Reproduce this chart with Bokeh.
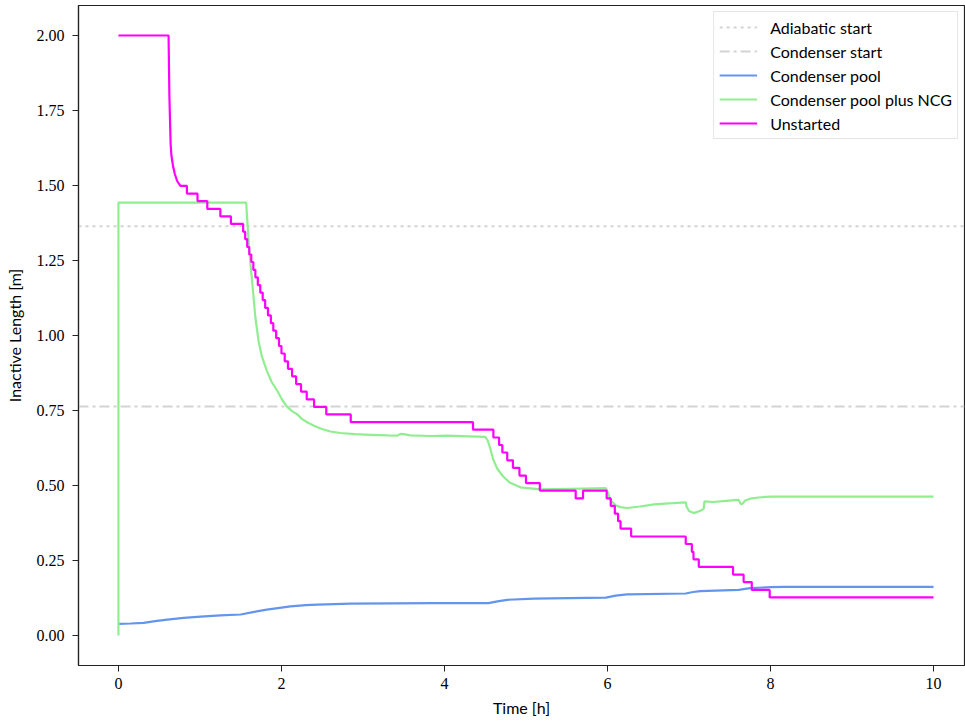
from bokeh.plotting import figure
from bokeh.models import FixedTicker, NumeralTickFormatter, Range1d, Legend, LegendItem
from bokeh.embed import file_html
from bokeh.resources import INLINE

# ---------------- data ----------------
X_MIN, X_MAX = -0.49, 10.38
Y_MIN, Y_MAX = -0.10, 2.10

adiabatic_start = 1.364
condenser_start = 0.763

# Condenser pool (blue)
pool_t = [0.0, 0.15, 0.31, 0.45, 0.60, 0.80, 1.01, 1.25, 1.50, 1.65, 1.82, 2.00, 2.11, 2.30,
          2.44, 2.85, 3.87, 4.54, 4.65, 4.77, 5.10, 5.30, 5.98, 6.10, 6.24, 6.96, 7.05, 7.14,
          7.61, 7.75, 8.00, 8.16, 10.0]
pool_y = [0.039, 0.040, 0.042, 0.048, 0.053, 0.059, 0.063, 0.067, 0.070, 0.078, 0.086, 0.093,
          0.097, 0.101, 0.103, 0.106, 0.108, 0.108, 0.114, 0.119, 0.123, 0.124, 0.126, 0.133,
          0.137, 0.140, 0.145, 0.148, 0.152, 0.158, 0.161, 0.162, 0.162]

# Condenser pool plus NCG (green)
ncg_t = [0.0, 0.0, 1.567, 1.60, 1.64, 1.68, 1.72, 1.76, 1.82, 1.88, 1.95, 2.01, 2.07, 2.13,
         2.19, 2.25, 2.32, 2.40, 2.48, 2.60, 2.72, 2.90, 3.10, 3.30, 3.42, 3.46, 3.50, 3.58,
         3.83, 4.03, 4.30, 4.50, 4.53, 4.56, 4.60, 4.65, 4.72, 4.80, 4.93, 5.18, 5.55, 5.98,
         6.00, 6.04, 6.10, 6.16, 6.24, 6.40, 6.57, 6.80, 6.96, 6.97, 7.00, 7.06, 7.14, 7.18,
         7.19, 7.30, 7.45, 7.61, 7.63, 7.65, 7.69, 7.75, 7.85, 8.00, 8.50, 10.0]
ncg_y = [0.0, 1.443, 1.443, 1.30, 1.18, 1.06, 0.98, 0.93, 0.883, 0.845, 0.815, 0.785, 0.762,
         0.748, 0.738, 0.722, 0.710, 0.699, 0.690, 0.680, 0.675, 0.671, 0.669, 0.667, 0.666,
         0.672, 0.671, 0.667, 0.665, 0.666, 0.664, 0.662, 0.650, 0.625, 0.585, 0.555, 0.530,
         0.510, 0.494, 0.487, 0.489, 0.491, 0.480, 0.450, 0.434, 0.428, 0.425, 0.430, 0.437,
         0.441, 0.444, 0.430, 0.415, 0.408, 0.416, 0.422, 0.447, 0.445, 0.449, 0.452, 0.440,
         0.437, 0.450, 0.456, 0.460, 0.463, 0.463, 0.463]

# Unstarted (magenta): smooth initial part, then stair levels (start time, level)
unst_smooth_t = [0.0, 0.615, 0.625, 0.64, 0.65, 0.67, 0.69, 0.72]
unst_smooth_y = [2.0, 2.0, 1.80, 1.64, 1.60, 1.565, 1.54, 1.515]
unst_step_t = [0.76, 0.84, 0.97, 1.09, 1.25, 1.38, 1.53, 1.555, 1.58, 1.605, 1.63, 1.655,
               1.68, 1.71, 1.74, 1.77, 1.80, 1.835, 1.87, 1.90, 1.935, 1.97, 2.00, 2.04,
               2.08, 2.13, 2.18, 2.24, 2.31, 2.40, 2.55, 2.85, 4.35, 4.60, 4.67, 4.71, 4.77,
               4.84, 4.92, 5.00, 5.17, 5.61, 5.70, 5.99, 6.04, 6.09, 6.13, 6.16, 6.29, 6.96,
               7.035, 7.055, 7.12, 7.54, 7.67, 7.77, 7.99]
unst_step_y = [1.499, 1.473, 1.448, 1.422, 1.397, 1.372, 1.346, 1.321, 1.295, 1.270, 1.245,
               1.219, 1.194, 1.168, 1.143, 1.118, 1.092, 1.067, 1.041, 1.016, 0.991, 0.965,
               0.940, 0.914, 0.889, 0.864, 0.838, 0.813, 0.787, 0.762, 0.737, 0.711, 0.686,
               0.660, 0.635, 0.610, 0.584, 0.559, 0.533, 0.508, 0.483, 0.457, 0.483, 0.457,
               0.432, 0.406, 0.381, 0.356, 0.330, 0.305, 0.279, 0.254, 0.229, 0.203, 0.178,
               0.152, 0.127]
unst_end_t = 10.0

x_ticks = [0, 2, 4, 6, 8, 10]
y_ticks = [0.0, 0.25, 0.5, 0.75, 1.0, 1.25, 1.5, 1.75, 2.0]

# build unstarted path
ux = list(unst_smooth_t)
uy = list(unst_smooth_y)
for i, (t, lv) in enumerate(zip(unst_step_t, unst_step_y)):
    ux.append(t)
    uy.append(lv)
    t_next = unst_step_t[i + 1] if i + 1 < len(unst_step_t) else unst_end_t
    ux.append(t_next)
    uy.append(lv)

# ---------------- figure ----------------
SERIF = "Liberation Serif"
SANS = "Lato"

p = figure(width=965, height=722, output_backend="svg", toolbar_location=None,
           x_range=Range1d(X_MIN, X_MAX), y_range=Range1d(Y_MIN, Y_MAX),
           min_border_left=78, min_border_right=1, min_border_top=5, min_border_bottom=57)
p.background_fill_color = "white"
p.border_fill_color = "white"
p.outline_line_color = "#222222"
p.outline_line_width = 1.2
p.grid.visible = False

r_adi = p.line([X_MIN, X_MAX], [adiabatic_start, adiabatic_start], line_color="#d3d3d3",
               line_width=2, line_dash="3 4")
r_con = p.line([X_MIN, X_MAX], [condenser_start, condenser_start], line_color="#d3d3d3",
               line_width=2, line_dash="10 4 3 4")
r_pool = p.line(pool_t, pool_y, line_color="#6495ED", line_width=2.2)
r_ncg = p.line(ncg_t, ncg_y, line_color="#90EE90", line_width=2.2)
r_uns = p.line(ux, uy, line_color="#FF00FF", line_width=2.2)

for ax in (p.xaxis[0], p.yaxis[0]):
    ax.axis_line_color = "#222222"
    ax.axis_line_width = 1.2
    ax.major_tick_line_color = "#222222"
    ax.major_tick_out = 6
    ax.major_tick_in = 0
    ax.minor_tick_line_color = None
    ax.major_label_text_font = SERIF
    ax.major_label_text_font_size = "16px"
    ax.major_label_text_color = "black"
    ax.axis_label_text_font = SANS
    ax.axis_label_text_font_size = "16px"
    ax.axis_label_text_font_style = "normal"
    ax.axis_label_text_color = "black"

p.xaxis.ticker = FixedTicker(ticks=x_ticks)
p.yaxis.ticker = FixedTicker(ticks=y_ticks)
p.yaxis.formatter = NumeralTickFormatter(format="0.00")
p.xaxis.axis_label = "Time [h]"
p.yaxis.axis_label = "Inactive Length [m]"
p.xaxis.major_label_standoff = 6
p.yaxis.major_label_standoff = 8
p.xaxis.axis_label_standoff = 6
p.yaxis.axis_label_standoff = 10

legend = Legend(items=[
    LegendItem(label="Adiabatic start", renderers=[r_adi]),
    LegendItem(label="Condenser start", renderers=[r_con]),
    LegendItem(label="Condenser pool", renderers=[r_pool]),
    LegendItem(label="Condenser pool plus NCG", renderers=[r_ncg]),
    LegendItem(label="Unstarted", renderers=[r_uns]),
], location="top_right")
legend.margin = 6
legend.padding = 5
legend.spacing = 4
legend.glyph_width = 38
legend.glyph_height = 20
legend.label_height = 20
legend.label_standoff = 13
legend.label_text_font = SANS
legend.label_text_font_size = "16px"
legend.label_text_color = "black"
legend.border_line_color = "#cccccc"
legend.border_line_width = 1
legend.background_fill_alpha = 0.85
p.add_layout(legend)

open("out.html", "w").write(file_html(p, INLINE))
